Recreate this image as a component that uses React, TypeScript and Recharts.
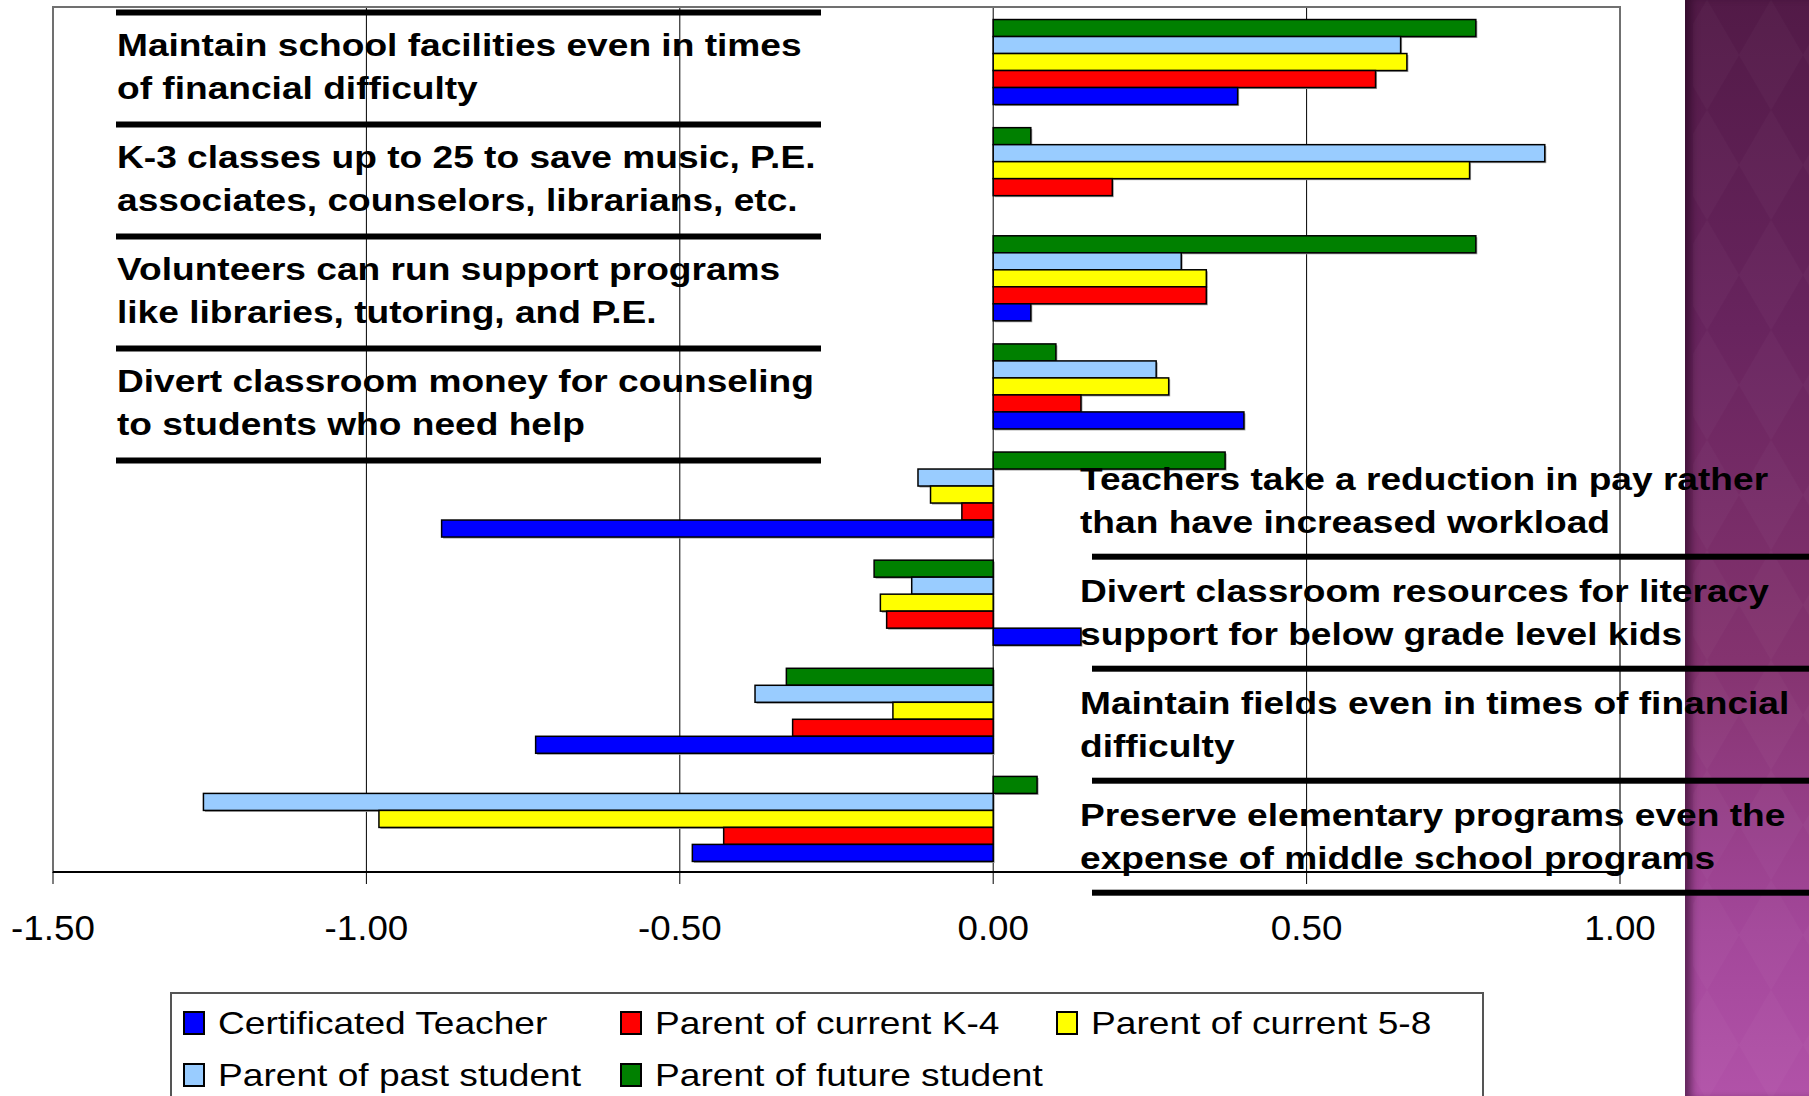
import React from 'react'
import { BarChart, Bar, XAxis, YAxis, CartesianGrid, ReferenceArea } from 'recharts'

// survey statements, split in two lines as on the slide
const categories = [
  ['Maintain school facilities even in times', 'of financial difficulty'],
  ['K-3 classes up to 25 to save music, P.E.', 'associates, counselors, librarians, etc.'],
  ['Volunteers can run support programs', 'like libraries, tutoring, and P.E.'],
  ['Divert classroom money for counseling', 'to students who need help'],
  ['Teachers take a reduction in pay rather', 'than have increased workload'],
  ['Divert classroom resources for literacy', 'support for below grade level kids'],
  ['Maintain fields even in times of financial', 'difficulty'],
  ['Preserve elementary programs even the', 'expense of middle school programs'],
]

const teacher = [0.39, 0, 0.06, 0.4, -0.88, 0.14, -0.73, -0.48]
const k4 = [0.61, 0.19, 0.34, 0.14, -0.05, -0.17, -0.32, -0.43]
const grade58 = [0.66, 0.76, 0.34, 0.28, -0.1, -0.18, -0.16, -0.98]
const past = [0.65, 0.88, 0.3, 0.26, -0.12, -0.13, -0.38, -1.26]
const future = [0.77, 0.06, 0.77, 0.1, 0.37, -0.19, -0.33, 0.07]

const xTicks = [-1.5, -1, -0.5, 0, 0.5, 1]

const series = [
  { key: 'teacher', name: 'Certificated Teacher', color: '#0000FF', values: teacher },
  { key: 'k4', name: 'Parent of current K-4', color: '#FF0000', values: k4 },
  { key: 'grade58', name: 'Parent of current 5-8', color: '#FFFF00', values: grade58 },
  { key: 'past', name: 'Parent of past student', color: '#99CCFF', values: past },
  { key: 'future', name: 'Parent of future student', color: '#008000', values: future },
]

const data = categories.map((lines, i) => {
  const row: Record<string, any> = { name: lines.join(' ') }
  series.forEach((s) => (row[s.key] = s.values[i]))
  return row
})

const FONT = '"Liberation Sans", Arial, sans-serif'
const STRETCH = 1.16 // the slide was stretched horizontally

const BarShape = (props: any) => {
  const { x, y, width, height, fill } = props
  if (!width || !height) return null
  const x0 = width < 0 ? x + width : x
  const w = Math.abs(width)
  return (
    <g>
      <rect x={x0 + 1.5} y={y + 1.5} width={w} height={height} fill="#a0a0a0" />
      <rect x={x0} y={y} width={w} height={height} fill={fill} stroke="#000" strokeWidth={1.5} />
    </g>
  )
}

const XTick = ({ x, y, payload }: any) => (
  <text
    transform={`translate(${x},${y}) scale(1.05,1)`}
    textAnchor="middle"
    dy="0.71em"
    fontSize={35}
    fontFamily={FONT}
    fill="#000"
  >
    {payload.value.toFixed(2)}
  </text>
)

function Label({ x, y, lines }: { x: number; y: number; lines: string[] }) {
  return (
    <g>
      {lines.map((t, k) => (
        <text
          key={k}
          transform={`translate(${x},${y + k * 42.5}) scale(${STRETCH},1)`}
          fontSize={32}
          fontWeight="bold"
          fontFamily={FONT}
          fill="#000"
        >
          {t}
        </text>
      ))}
    </g>
  )
}

export default function App() {
  const legendRows = [series.slice(0, 3), series.slice(3)]
  const legendCols = [184, 621, 1057]
  return (
    <div
      style={{
        position: 'absolute',
        left: 0,
        top: 0,
        width: 1809,
        height: 1096,
        overflow: 'hidden',
        background: '#fff',
        fontFamily: FONT,
      }}
    >
      {/* purple slide border on the right */}
      <div
        style={{
          position: 'absolute',
          left: 1685,
          top: 0,
          width: 124,
          height: 1096,
          background: 'linear-gradient(180deg, #521a47 0%, #68245e 30%, #84336f 60%, #a3479a 85%, #b152a8 100%)',
          boxShadow: 'inset 10px 0 8px -4px rgba(30,0,25,0.55)',
        }}
      >
        <svg width={124} height={1096} style={{ position: 'absolute', left: 0, top: 0 }}>
          <defs>
            <pattern id="dia" width={64} height={110} patternUnits="userSpaceOnUse" x={-10} y={0}>
              <path d="M32 0 L64 55 L32 110 L0 55 Z" fill="rgba(255,255,255,0.025)" />
            </pattern>
          </defs>
          <rect x={8} y={0} width={116} height={1096} fill="url(#dia)" />
        </svg>
      </div>

      <div style={{ position: 'absolute', left: 0, top: 0 }}>
        <BarChart
          width={1809}
          height={1096}
          data={data}
          layout="vertical"
          margin={{ top: 7, left: 53, right: 189, bottom: 164 }}
          barGap={0}
          barCategoryGap="11.6%"
        >
          <CartesianGrid horizontal={false} stroke="#000" strokeWidth={1} />
          <ReferenceArea x1={-1.5} x2={1} fill="none" stroke="#707070" strokeWidth={2} ifOverflow="visible" />
          <XAxis
            type="number"
            domain={[-1.5, 1]}
            ticks={xTicks}
            height={60}
            axisLine={{ stroke: '#000', strokeWidth: 2 }}
            tickLine={{ stroke: '#000', strokeWidth: 1 }}
            tickSize={12}
            tickMargin={31}
            tick={<XTick />}
            interval={0}
          />
          <YAxis type="category" dataKey="name" hide />
          {[...series].reverse().map((s) => (
            <Bar
              key={s.key}
              dataKey={s.key}
              name={s.name}
              fill={s.color}
              shape={<BarShape />}
              isAnimationActive={false}
            />
          ))}
        </BarChart>
      </div>

      {/* statement labels and rules drawn over the plot */}
      <svg width={1809} height={1096} style={{ position: 'absolute', left: 0, top: 0, pointerEvents: 'none' }}>
        {[0, 1, 2, 3, 4].map((i) => (
          <rect key={'l' + i} x={116} y={9.5 + i * 112} width={705} height={6} fill="#000" />
        ))}
        {categories.slice(0, 4).map((lines, i) => (
          <Label key={'a' + i} x={117} y={56 + i * 112} lines={lines} />
        ))}
        {categories.slice(4).map((lines, i) => (
          <Label key={'b' + i} x={1080} y={490 + i * 112} lines={lines} />
        ))}
        {[0, 1, 2, 3].map((i) => (
          <rect key={'r' + i} x={1092} y={553.7 + i * 112} width={720} height={6} fill="#000" />
        ))}

        {/* legend */}
        <rect x={171} y={993} width={1312} height={120} fill="#fff" stroke="#555" strokeWidth={2} />
        {legendRows.map((row, r) =>
          row.map((s, c) => (
            <g key={s.key}>
              <rect
                x={legendCols[c]}
                y={1012 + r * 52}
                width={20}
                height={22}
                fill={s.color}
                stroke="#000"
                strokeWidth={2}
              />
              <text
                transform={`translate(${legendCols[c] + 34},${1033.5 + r * 52}) scale(${STRETCH},1)`}
                fontSize={32}
                fontFamily={FONT}
                fill="#000"
              >
                {s.name}
              </text>
            </g>
          ))
        )}
      </svg>
    </div>
  )
}
